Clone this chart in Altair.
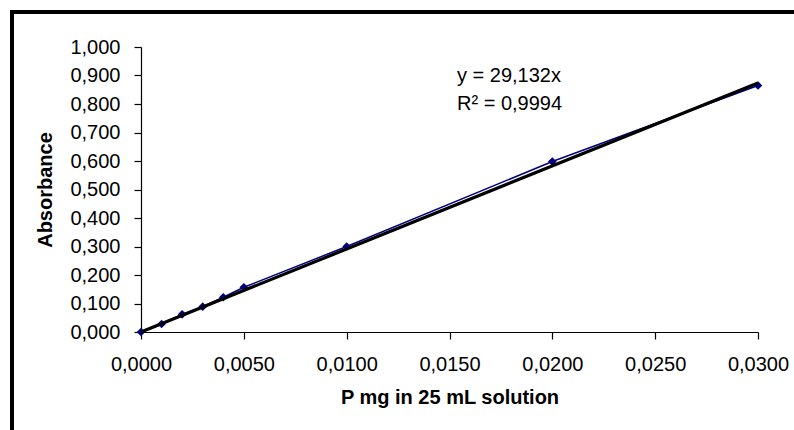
import altair as alt
import pandas as pd

# data
p_mg = [0.0, 0.001, 0.002, 0.003, 0.004, 0.005, 0.010, 0.020, 0.030]
absorbance = [0.0, 0.028, 0.062, 0.089, 0.122, 0.157, 0.300, 0.598, 0.865]
trend_x = [0.0, 0.030]
slope = 29.132
x_ticks = [0.0, 0.005, 0.010, 0.015, 0.020, 0.025, 0.030]
y_ticks = [0.0, 0.1, 0.2, 0.3, 0.4, 0.5, 0.6, 0.7, 0.8, 0.9, 1.0]
eq_line1 = "y = 29,132x"
eq_line2 = "R² = 0,9994"

df = pd.DataFrame({"x": p_mg, "y": absorbance})
tdf = pd.DataFrame({"x": trend_x})

FONT = "Liberation Sans"
W, H = 617, 285

xs = alt.Scale(domain=[0, 0.03], nice=False, zero=True)
ys = alt.Scale(domain=[0, 1.0], nice=False)

xaxis = alt.Axis(
    values=x_ticks, labelExpr="replace(format(datum.value, '.4f'), '.', ',')",
    title="P mg in 25 mL solution", grid=False, tickSize=7, labelPadding=15,
    titleY=65, titleBaseline="middle", labelFlush=False,
)
yaxis = alt.Axis(
    values=y_ticks, labelExpr="replace(format(datum.value, '.3f'), '.', ',')",
    title="Absorbance", grid=False, tickSize=7, labelPadding=14,
    titleX=-96, titleBaseline="middle",
)
X = alt.X("x:Q", scale=xs, axis=xaxis, title="P mg in 25 mL solution")
Y = alt.Y("y:Q", scale=ys, axis=yaxis, title="Absorbance")

base = alt.Chart(df)
series_line = base.mark_line(color="#000080", strokeWidth=1.5).encode(x=X, y=Y)
series_pts = base.mark_point(shape="diamond", size=75, color="#000080", filled=True, opacity=1).encode(x=X, y=Y)

trend = alt.Chart(tdf).transform_calculate(
    y=f"datum.x * {slope}"
).mark_line(color="#000000", strokeWidth=3.2).encode(x=X, y=Y)

one = pd.DataFrame({"a": [0]})
eq1 = alt.Chart(one).mark_text(
    align="left", baseline="middle", font=FONT, fontSize=20, color="#000000", text=eq_line1
).encode(x=alt.value(316), y=alt.value(29))
eq2 = alt.Chart(one).mark_text(
    align="left", baseline="middle", font=FONT, fontSize=20, color="#000000", text=eq_line2
).encode(x=alt.value(316), y=alt.value(57))

frame_top = alt.Chart(one).mark_rule(color="#000000", strokeWidth=4).encode(
    x=alt.value(-131), x2=alt.value(700), y=alt.value(-35)
)
frame_left = alt.Chart(one).mark_rule(color="#000000", strokeWidth=4).encode(
    x=alt.value(-129), y=alt.value(-37), y2=alt.value(420)
)

chart = alt.layer(series_line, series_pts, trend, eq1, eq2, frame_top, frame_left).properties(
    width=W, height=H,
    autosize=alt.AutoSizeParams(type="none"),
    padding={"left": 141, "top": 47, "right": 36, "bottom": 98},
    background="#ffffff",
).configure_view(stroke=None).configure_axis(
    grid=False,
    domainColor="#000000", tickColor="#000000", labelColor="#000000", titleColor="#000000",
    labelFont=FONT, titleFont=FONT, labelFontSize=20, titleFontSize=20,
    titleFontWeight="bold", domainWidth=1.2, tickWidth=1.2,
)

chart.save("out.html", embed_options={"renderer": "svg", "actions": False})
